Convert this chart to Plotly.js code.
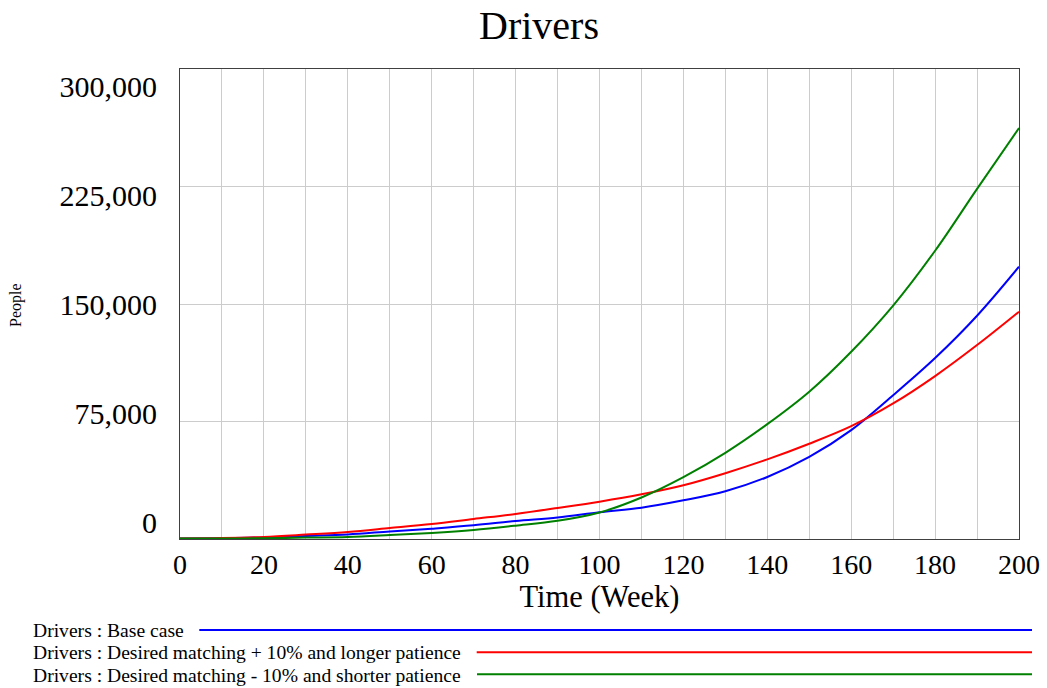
<!DOCTYPE html>
<html>
<head>
<meta charset="utf-8">
<script src="https://cdn.plot.ly/plotly-3.0.1.min.js"></script>
<style>
  html, body { margin: 0; padding: 0; background: #ffffff; }
  #chart { width: 1047px; height: 688px; }
</style>
</head>
<body>
<div id="chart"></div>
<script>
// ---- data ----
const weeks = [0, 10, 20, 30, 40, 50, 60, 70, 80, 90, 100, 110, 120, 130, 140, 150, 160, 170, 180, 190, 200];
const baseCase = [300, 500, 1000, 1900, 2900, 4800, 6600, 8700, 11500, 13700, 17100, 20000, 24700, 30500, 39600, 52400, 69500, 91800, 115500, 142500, 173800];
const longerPatience = [300, 600, 1300, 2800, 4500, 7000, 9600, 12800, 16000, 19800, 23800, 28500, 34300, 42000, 50800, 60800, 72000, 86500, 104000, 123800, 145100];
const shorterPatience = [300, 300, 500, 900, 1300, 2500, 3900, 5800, 8500, 11600, 16900, 26500, 39500, 55000, 73300, 94000, 119500, 149000, 184000, 223500, 262300];
const seriesNames = [
  "Drivers : Base case",
  "Drivers : Desired matching + 10% and longer patience",
  "Drivers : Desired matching - 10% and shorter patience"
];
const seriesColors = ["#0000ff", "#ff0000", "#008000"];
const yTickVals = [0, 75000, 150000, 225000, 300000];
const yTickText = ["0", "75,000", "150,000", "225,000", "300,000"];
const xTickVals = [0, 20, 40, 60, 80, 100, 120, 140, 160, 180, 200];
const chartTitle = "Drivers";
const xTitle = "Time (Week)";
const yTitle = "People";

// ---- layout geometry (pixels) ----
const W = 1047, H = 688;
const L = 180, R = 28, T = 69, B = 149;
const PW = W - L - R, PH = H - T - B;
const px2x = p => (p - L) / PW;
const py2y = p => (H - B - p) / PH;

const serif = "Liberation Serif, Times New Roman, serif";

const seriesData = [baseCase, longerPatience, shorterPatience];
const traces = seriesData.map((vals, i) => ({
  type: "scatter",
  mode: "lines",
  x: weeks,
  y: vals,
  name: seriesNames[i],
  line: { color: seriesColors[i], width: 2, shape: "spline", smoothing: 1 },
  hoverinfo: "x+y+name"
}));
// empty trace so the tick-label axis (y2) is drawn
traces.push({ type: "scatter", mode: "lines", x: [], y: [], yaxis: "y2", showlegend: false, hoverinfo: "skip" });

// label axis: labels sit offset from gridlines (as in reference)
const lab0 = py2y(522), labTop = py2y(86.3);
const span = (yTickVals[yTickVals.length - 1] - yTickVals[0]) / (labTop - lab0);
const y2min = yTickVals[0] - lab0 * span;
const y2max = y2min + span;

const legendTextY = [630.7, 652.7, 675];
const legendLineY = [630, 652.3, 674.3];
const legendLineX0 = [199.3, 476.7, 477];
const legendLineX1 = 1032;

const annotations = [
  {
    text: yTitle, xref: "paper", yref: "paper",
    x: px2x(16), y: py2y(305), xanchor: "center", yanchor: "middle",
    textangle: -90, showarrow: false,
    font: { family: serif, size: 16, color: "#000" }
  }
];
const shapes = [];
seriesNames.forEach((n, i) => {
  annotations.push({
    text: n, xref: "paper", yref: "paper",
    x: px2x(31), y: py2y(legendTextY[i]), xanchor: "left", yanchor: "middle",
    showarrow: false, font: { family: serif, size: 19.6, color: "#000" }
  });
  shapes.push({
    type: "line", xref: "paper", yref: "paper",
    x0: px2x(legendLineX0[i]), x1: px2x(legendLineX1),
    y0: py2y(legendLineY[i]), y1: py2y(legendLineY[i]),
    line: { color: seriesColors[i], width: 2 }
  });
});

const layout = {
  width: W, height: H,
  margin: { l: L, r: R, t: T, b: B, pad: 0 },
  paper_bgcolor: "#ffffff",
  plot_bgcolor: "#ffffff",
  showlegend: false,
  title: {
    text: chartTitle,
    x: 539 / W, xref: "container", xanchor: "center",
    y: 1 - 25 / H, yref: "container", yanchor: "middle",
    font: { family: serif, size: 40, color: "#000" }
  },
  xaxis: {
    range: [0, 200],
    tickvals: xTickVals,
    ticks: "",
    showgrid: true, gridcolor: "#cccccc", gridwidth: 1,
    minor: { dtick: 10, showgrid: true, gridcolor: "#cccccc", gridwidth: 1 },
    zeroline: false,
    showline: true, linecolor: "#404040", linewidth: 1, mirror: true,
    tickfont: { family: serif, size: 28, color: "#000" },
    ticklabelstandoff: 0,
    title: { text: xTitle, font: { family: serif, size: 30.5, color: "#000" }, standoff: 5 },
    fixedrange: true
  },
  yaxis: {
    range: [0, 300000],
    tickvals: yTickVals,
    showticklabels: false,
    ticks: "",
    showgrid: true, gridcolor: "#cccccc", gridwidth: 1,
    zeroline: false,
    showline: true, linecolor: "#404040", linewidth: 1, mirror: true,
    fixedrange: true
  },
  yaxis2: {
    overlaying: "y",
    side: "left",
    anchor: "x",
    range: [y2min, y2max],
    tickvals: yTickVals,
    ticktext: yTickText,
    ticks: "",
    showgrid: false, zeroline: false, showline: false,
    tickfont: { family: serif, size: 30, color: "#000" },
    ticklabelstandoff: 22,
    fixedrange: true
  },
  annotations: annotations,
  shapes: shapes
};

Plotly.newPlot("chart", traces, layout, { displayModeBar: false, staticPlot: true });
</script>
</body>
</html>
